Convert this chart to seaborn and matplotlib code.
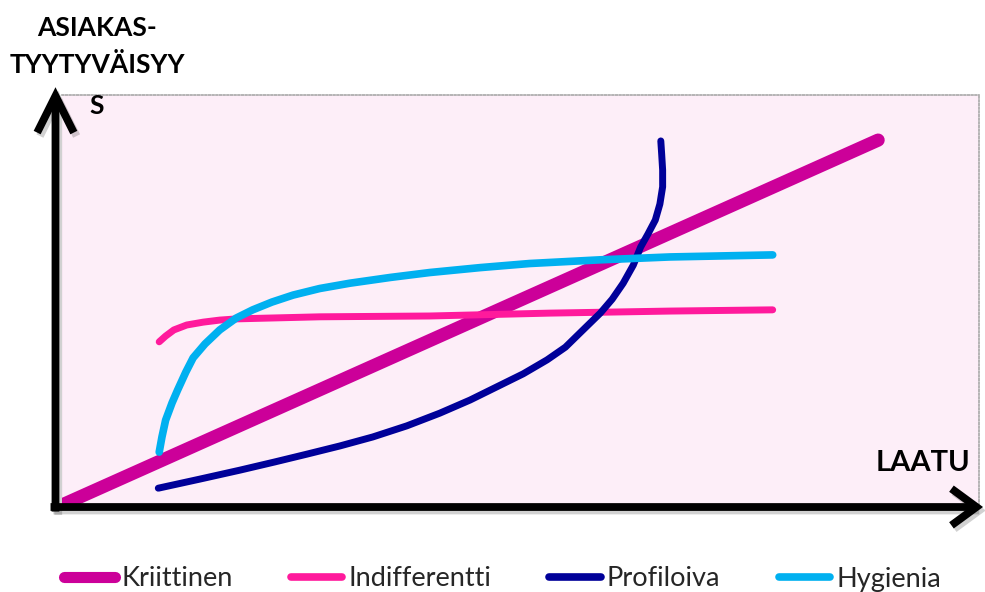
import matplotlib
matplotlib.use("Agg")
import matplotlib.pyplot as plt
import matplotlib.patheffects as pe
from matplotlib.lines import Line2D
import pandas as pd
import seaborn as sns

# Quality (x) vs customer satisfaction (y), both on a 0-100 scale
kriittinen_x = [0.0, 89.0]
kriittinen_y = [0.0, 89.0]

indifferentti_x = [10.6, 11.3, 12.2, 13.6, 15.4, 17.2, 19.1, 28.1, 40.1, 53.2, 66.3, 77.5]
indifferentti_y = [39.8, 41.2, 42.7, 43.9, 44.6, 45.1, 45.4, 45.9, 46.1, 46.8, 47.3, 47.6]

profiloiva_x = [10.5, 15.0, 19.4, 23.2, 26.7, 30.3, 33.9, 37.6, 41.2, 44.5, 47.4, 50.3,
                52.9, 54.9, 56.5, 57.6, 58.7, 60.0, 61.2, 62.3, 63.1, 63.9, 64.7, 65.2,
                65.5, 65.5, 65.4, 65.3]
profiloiva_y = [4.1, 6.3, 8.5, 10.5, 12.4, 14.4, 16.6, 19.3, 22.4, 25.6, 28.8, 32.0,
                35.4, 38.5, 42.0, 44.4, 46.8, 50.2, 54.1, 58.5, 62.9, 66.1, 69.5, 73.4,
                77.6, 81.7, 85.4, 88.8]

hygienia_x = [10.6, 10.9, 11.3, 12.0, 12.6, 13.5, 14.3, 15.6, 17.2, 19.0, 20.8, 22.9,
              25.2, 28.1, 31.4, 35.8, 40.1, 45.6, 51.0, 58.7, 66.3, 77.5]
hygienia_y = [12.9, 16.6, 20.7, 24.9, 28.0, 32.4, 35.9, 39.3, 42.7, 45.6, 47.6, 49.5,
              51.2, 52.8, 54.1, 55.5, 56.7, 57.9, 58.9, 59.8, 60.5, 61.0]

series_names = ["Kriittinen", "Indifferentti", "Profiloiva", "Hygienia"]
series_colors = ["#CC0099", "#FF1A9C", "#000099", "#00B0F0"]
series_widths = [9.5, 5.0, 5.0, 5.5]
legend_widths = [8.0, 5.5, 5.5, 5.5]

sns.set_theme(style="white")
plt.rcParams["font.family"] = ["Lato", "DejaVu Sans"]

fig = plt.figure(figsize=(9.85, 5.92), dpi=100)
ax = fig.add_axes([62 / 985, 1 - 505 / 592, 917 / 985, 410 / 592])
ax.set_facecolor("#FDEEF8")

frames = [
    pd.DataFrame({"laatu": kriittinen_x, "tyytyvaisyys": kriittinen_y}),
    pd.DataFrame({"laatu": indifferentti_x, "tyytyvaisyys": indifferentti_y}),
    pd.DataFrame({"laatu": profiloiva_x, "tyytyvaisyys": profiloiva_y}),
    pd.DataFrame({"laatu": hygienia_x, "tyytyvaisyys": hygienia_y}),
]

for df, name, col, lw in zip(frames, series_names, series_colors, series_widths):
    sns.lineplot(data=df, x="laatu", y="tyytyvaisyys", ax=ax, sort=False,
                 estimator=None, color=col, linewidth=lw, label=name,
                 legend=False, solid_capstyle="round", solid_joinstyle="round")

ax.set_xlim(0, 100)
ax.set_ylim(0, 100)
ax.set_xticks([])
ax.set_yticks([])
ax.set_xlabel("")
ax.set_ylabel("")

# Dotted frame on the top and right edges only
for side in ("left", "bottom"):
    ax.spines[side].set_visible(False)
for side in ("top", "right"):
    ax.spines[side].set_visible(True)
    ax.spines[side].set_linestyle((0, (1, 1.2)))
    ax.spines[side].set_color("#A8A8A8")
    ax.spines[side].set_linewidth(1.2)

# Thick black axis arrows with a soft drop shadow
shadow = [pe.SimpleLineShadow(offset=(2, -2.5), shadow_color="black", alpha=0.18), pe.Normal()]
ax.annotate("", xy=(-0.0071, 1.019), xytext=(-0.0071, -0.016),
            xycoords="axes fraction", textcoords="axes fraction",
            arrowprops=dict(arrowstyle="->, head_length=2.2, head_width=1.1",
                            lw=5.6, color="black", shrinkA=0, shrinkB=0,
                            joinstyle="miter", capstyle="butt",
                            path_effects=shadow),
            annotation_clip=False)
ax.annotate("", xy=(1.0044, -0.0049), xytext=(-0.0125, -0.0049),
            xycoords="axes fraction", textcoords="axes fraction",
            arrowprops=dict(arrowstyle="->, head_length=1.5, head_width=1.1",
                            lw=5.6, color="black", shrinkA=0, shrinkB=0,
                            joinstyle="miter", capstyle="butt",
                            path_effects=shadow),
            annotation_clip=False)

# Axis titles
title_kw = dict(ha="center", va="center", fontsize=19, fontweight="bold", color="black")
fig.text(97 / 985, 1 - 28 / 592, "ASIAKAS-", **title_kw)
fig.text(97 / 985, 1 - 65 / 592, "TYYTYVÄISYY", **title_kw)
fig.text(97 / 985, 1 - 106 / 592, "S", **title_kw)
fig.text(923 / 985, 1 - 463 / 592, "LAATU", ha="center", va="center",
         fontsize=21, fontweight="bold", color="black")

handles = [Line2D([0], [0], color=c, lw=w, solid_capstyle="round")
           for c, w in zip(series_colors, legend_widths)]
fig.legend(handles, series_names, loc="center", bbox_to_anchor=(0.51, 1 - 579 / 592),
           ncol=4, frameon=False, fontsize=19.5, handlelength=1.9,
           handletextpad=0.22, columnspacing=2.15, borderaxespad=0)

fig.savefig("out.png", dpi=100)
